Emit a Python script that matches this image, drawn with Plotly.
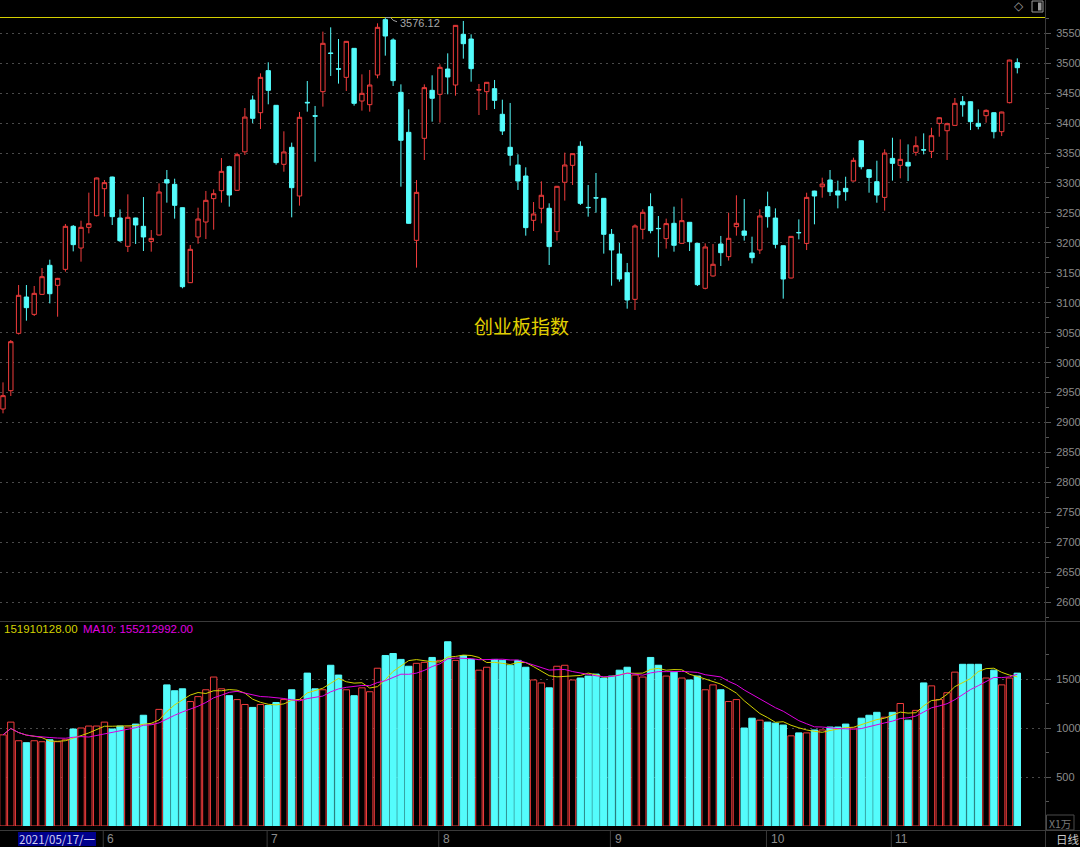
import plotly.graph_objects as go
import pandas as pd

W, H = 1080, 847

# ---------------- data (创业板指数, daily, 2021-05-13 .. 2021-11-23) ----------------
opens = [2922.6, 2953.2, 3049.0, 3109.6, 3080.6, 3114.0, 3162.5, 3129.1, 3155.8, 3227.6,
         3191.4, 3225.9, 3245.4, 3290.4, 3309.9, 3241.5, 3194.2, 3241.5, 3227.6, 3202.5,
         3213.1, 3305.5, 3297.7, 3258.7, 3133.5, 3209.8, 3234.8, 3273.8, 3287.1, 3327.2,
         3287.7, 3352.0, 3438.5, 3417.3, 3487.5, 3429.6, 3331.1, 3359.5, 3278.2, 3434.6,
         3412.3, 3452.4, 3517.0, 3490.8, 3476.3, 3524.7, 3436.8, 3430.7, 3480.2, 3572.6,
         3538.7, 3451.3, 3384.5, 3204.2, 3374.5, 3454.6, 3448.0, 3490.2, 3463.5, 3548.1,
         3540.3, 3455.2, 3452.4, 3457.4, 3414.6, 3359.5, 3330.0, 3311.6, 3237.6, 3257.7,
         3257.7, 3218.7, 3301.1, 3329.4, 3361.2, 3259.2, 3275.3, 3274.3, 3214.2, 3181.4,
         3150.2, 3105.7, 3222.6, 3260.4, 3224.1, 3207.0, 3232.6, 3199.2, 3234.3, 3199.2,
         3124.1, 3144.7, 3198.1, 3177.0, 3227.0, 3219.8, 3183.1, 3188.1, 3260.4, 3241.4,
         3195.2, 3141.3, 3217.3, 3199.1, 3286.5, 3293.7, 3304.9, 3286.5, 3291.0, 3303.2,
         3370.5, 3322.1, 3302.1, 3275.9, 3341.0, 3329.4, 3334.4, 3351.1, 3355.4, 3352.7,
         3399.5, 3387.2, 3396.1, 3435.6, 3435.6, 3399.5, 3412.3, 3417.3, 3385.6, 3434.0,
         3500.8]
highs = [2967.1, 3037.8, 3129.6, 3129.6, 3128.0, 3158.0, 3171.9, 3141.5, 3231.5, 3229.8,
         3237.0, 3283.8, 3309.0, 3304.9, 3310.5, 3255.9, 3281.0, 3242.0, 3276.5, 3221.4,
         3299.3, 3321.6, 3307.1, 3259.0, 3196.4, 3258.7, 3286.6, 3289.3, 3341.6, 3328.8,
         3350.5, 3425.0, 3446.0, 3483.0, 3501.4, 3430.0, 3386.2, 3367.3, 3418.5, 3470.2,
         3428.5, 3552.6, 3559.8, 3540.3, 3536.9, 3525.2, 3481.3, 3488.6, 3566.5, 3576.12,
         3541.4, 3464.6, 3422.9, 3304.9, 3464.6, 3479.7, 3498.0, 3516.4, 3563.6, 3570.4,
         3548.1, 3465.2, 3468.5, 3471.9, 3439.0, 3433.5, 3347.8, 3326.1, 3268.2, 3302.7,
         3266.0, 3295.0, 3350.6, 3349.5, 3369.5, 3296.6, 3316.6, 3274.8, 3223.1, 3199.8,
         3166.4, 3230.9, 3256.0, 3282.7, 3244.8, 3240.4, 3260.4, 3274.3, 3234.8, 3199.7,
         3199.2, 3198.1, 3211.5, 3250.4, 3279.4, 3273.2, 3210.3, 3256.0, 3285.5, 3257.6,
         3195.7, 3211.3, 3239.2, 3283.7, 3287.0, 3308.8, 3321.6, 3303.8, 3310.4, 3342.2,
         3371.0, 3322.6, 3337.1, 3356.1, 3375.5, 3372.8, 3364.4, 3377.8, 3382.8, 3392.2,
         3409.4, 3400.6, 3441.8, 3445.1, 3436.1, 3422.8, 3422.8, 3417.8, 3418.9, 3505.7,
         3508.0]
lows = [2915.4, 2944.3, 3047.0, 3070.1, 3077.9, 3113.0, 3099.0, 3076.7, 3151.9, 3185.8,
        3168.6, 3215.9, 3244.0, 3243.7, 3229.8, 3201.4, 3184.7, 3198.1, 3186.4, 3185.3,
        3212.5, 3267.1, 3240.4, 3124.1, 3133.0, 3198.6, 3206.4, 3222.0, 3267.1, 3260.4,
        3287.0, 3346.7, 3400.0, 3390.1, 3431.3, 3330.5, 3318.8, 3242.6, 3262.1, 3419.0,
        3335.5, 3427.4, 3478.6, 3465.8, 3453.5, 3429.0, 3420.7, 3419.0, 3474.7, 3512.5,
        3461.9, 3293.8, 3232.0, 3158.6, 3338.3, 3402.3, 3400.7, 3448.0, 3445.7, 3507.5,
        3469.1, 3413.4, 3421.8, 3423.5, 3380.1, 3328.9, 3288.3, 3212.0, 3219.8, 3232.6,
        3163.0, 3203.7, 3270.5, 3296.6, 3263.2, 3243.7, 3250.4, 3182.0, 3128.5, 3135.2,
        3090.1, 3087.9, 3205.9, 3215.9, 3175.8, 3190.3, 3185.3, 3198.7, 3186.4, 3128.0,
        3122.4, 3143.6, 3161.4, 3170.3, 3212.0, 3203.7, 3165.8, 3181.4, 3225.4, 3190.8,
        3106.8, 3140.8, 3205.8, 3188.0, 3230.9, 3275.4, 3278.2, 3257.6, 3270.4, 3302.7,
        3322.7, 3283.7, 3267.0, 3253.7, 3303.8, 3307.7, 3303.2, 3345.5, 3347.7, 3341.6,
        3377.2, 3338.3, 3395.6, 3410.6, 3388.3, 3389.5, 3400.6, 3374.4, 3378.3, 3432.9,
        3482.9]
closes = [2944.9, 3035.0, 3112.4, 3091.8, 3115.7, 3143.5, 3115.1, 3140.7, 3227.6, 3197.0,
          3225.9, 3232.0, 3308.3, 3300.5, 3243.7, 3203.6, 3242.6, 3229.8, 3209.8, 3207.5,
          3284.9, 3299.9, 3262.6, 3126.8, 3189.2, 3239.8, 3271.0, 3282.1, 3319.4, 3279.9,
          3347.2, 3410.0, 3407.9, 3476.3, 3454.6, 3333.9, 3351.7, 3292.1, 3409.6, 3433.8,
          3411.5, 3533.1, 3516.2, 3490.0, 3536.4, 3432.9, 3449.6, 3463.5, 3559.8, 3545.3,
          3470.8, 3371.2, 3232.6, 3284.3, 3459.1, 3441.3, 3493.0, 3476.9, 3563.1, 3532.5,
          3490.8, 3455.7, 3468.0, 3437.9, 3386.7, 3346.1, 3303.3, 3225.4, 3248.2, 3279.4,
          3193.7, 3294.4, 3330.0, 3348.9, 3266.0, 3258.8, 3274.9, 3214.2, 3188.1, 3139.7,
          3104.6, 3228.2, 3251.0, 3220.4, 3223.7, 3232.1, 3195.9, 3237.1, 3202.0, 3130.2,
          3193.1, 3164.2, 3183.6, 3207.6, 3232.6, 3212.6, 3175.3, 3244.9, 3243.7, 3197.5,
          3139.6, 3210.8, 3216.9, 3275.9, 3278.2, 3298.2, 3285.4, 3279.8, 3285.4, 3337.7,
          3327.1, 3309.3, 3279.8, 3349.9, 3332.7, 3339.4, 3328.2, 3362.2, 3355.0, 3378.9,
          3408.9, 3398.9, 3432.9, 3430.6, 3402.3, 3394.5, 3421.2, 3385.6, 3418.4, 3505.2,
          3492.4]
# volume, in axis units (the yellow readout 151910128.00 = 1519 here)
volumes = [930, 1060, 870, 850, 870, 860, 880, 860, 880, 990,
           1000, 1020, 1020, 1060, 990, 1020, 1010, 1040, 1130, 1040,
           1190, 1440, 1380, 1400, 1270, 1320, 1390, 1520, 1400, 1330,
           1290, 1240, 1210, 1240, 1230, 1260, 1290, 1390, 1290, 1560,
           1400, 1390, 1640, 1540, 1390, 1330, 1410, 1370, 1610, 1740,
           1760, 1700, 1630, 1660, 1670, 1720, 1690, 1880, 1690, 1740,
           1700, 1590, 1620, 1700, 1690, 1640, 1690, 1620, 1490, 1460,
           1410, 1630, 1640, 1490, 1510, 1530, 1550, 1510, 1530, 1590,
           1620, 1540, 1520, 1720, 1640, 1530, 1570, 1510, 1490, 1530,
           1390, 1440, 1390, 1270, 1290, 1000, 1100, 1080, 1060, 1050,
           1030, 920, 950, 950, 980, 980, 1010, 1010, 1040, 1000,
           1100, 1130, 1160, 1110, 1160, 1250, 1080, 1180, 1460, 1430,
           1290, 1360, 1570, 1650, 1650, 1650, 1510, 1590, 1440, 1510,
           1560]

holidays = ["2021-06-14", "2021-09-20", "2021-09-21", "2021-10-01", "2021-10-04",
            "2021-10-05", "2021-10-06", "2021-10-07"]
vol_ticks = [500, 1000, 1500]
price_title = "创业板指数"
ma5_label = "151910128.00"
ma10_label = "MA10: 155212992.00"
high_label = "3576.12"
date_label = "2021/05/17/一"

# ---------------- derived ----------------
days = pd.bdate_range("2021-05-13", "2021-11-23")
days = days[~days.isin(pd.to_datetime(holidays))][:len(closes)]
n = len(closes)
xs = list(range(n))
vol_s = pd.Series(volumes, dtype=float)
ma5 = vol_s.rolling(5, min_periods=1).mean()
ma10 = vol_s.rolling(10, min_periods=1).mean()
up = [c >= o for o, c in zip(opens, closes)]
month_starts = [i for i in range(1, n) if days[i].month != days[i - 1].month]

RED = "#f03c3c"
CYAN = "#54fcfc"
YEL = "#d2d200"
MAG = "#e000e0"
GRID = "#4a4a4a"
AXC = "#3a3a3a"
LBL = "#8c8c8c"
NUMF = "Liberation Sans, Arial, sans-serif"
CJK = "Noto Sans CJK SC, sans-serif"


def py(p):  # paper y from pixel
    return 1 - p / H


def px(p):
    return p / W


# x range: candle 0 at pixel 3, spacing ~7.8 px, plot width 1045 px
step = (1017.3 - 3) / 130
r0 = -3 / step
r1 = r0 + 1045 / step
x_dom = [0, 1045 / W]

fig = go.Figure()
fig.add_trace(go.Candlestick(
    x=xs, open=opens, high=highs, low=lows, close=closes,
    increasing=dict(line=dict(color=RED, width=1), fillcolor="#000000"),
    decreasing=dict(line=dict(color=CYAN, width=1), fillcolor=CYAN),
    whiskerwidth=0, xaxis="x", yaxis="y", hoverinfo="skip"))

fig.add_trace(go.Bar(
    x=xs, y=volumes, width=0.82,
    marker=dict(color=["#000000" if u else CYAN for u in up],
                line=dict(color=[RED if u else CYAN for u in up], width=1)),
    xaxis="x2", yaxis="y2", hoverinfo="skip"))
fig.add_trace(go.Scatter(x=xs, y=ma5, mode="lines", line=dict(color=YEL, width=1),
                         xaxis="x2", yaxis="y2", hoverinfo="skip"))
fig.add_trace(go.Scatter(x=xs, y=ma10, mode="lines", line=dict(color=MAG, width=1),
                         xaxis="x2", yaxis="y2", hoverinfo="skip"))

p_top = 3350 + (153 - 17) / 0.599
p_bot = 3350 - (621 - 153) / 0.599

axis_common = dict(side="right", ticks="outside", ticklen=5, tickwidth=1, tickcolor="#555555",
                   showline=False, zeroline=False, gridcolor=GRID, griddash="2px,4px", gridwidth=1,
                   tickfont=dict(family=NUMF, size=11, color=LBL), ticklabelstandoff=3,
                   fixedrange=True)

fig.update_layout(
    width=W, height=H, margin=dict(l=0, r=0, t=0, b=0),
    paper_bgcolor="#000000", plot_bgcolor="#000000",
    showlegend=False, boxgap=0.2, bargap=0,
    xaxis=dict(domain=x_dom, range=[r0, r1], showgrid=False, zeroline=False, showticklabels=False,
               ticks="", rangeslider=dict(visible=False), anchor="y", fixedrange=True),
    xaxis2=dict(domain=x_dom, range=[r0, r1], showgrid=False, zeroline=False, showticklabels=False,
                ticks="", anchor="y2", fixedrange=True),
    yaxis=dict(domain=[py(621), py(17)], range=[p_bot, p_top], anchor="x",
               tickmode="linear", tick0=0, dtick=50,
               minor=dict(ticks="outside", ticklen=3, tickcolor="#555555", dtick=25, tick0=0,
                          showgrid=False),
               **axis_common),
    yaxis2=dict(domain=[py(826), py(622)], range=[0, (826 - 622) / 0.098], anchor="x2",
                tickmode="array", tickvals=vol_ticks,
                minor=dict(ticks="outside", ticklen=3, tickcolor="#555555",
                           tickmode="array", tickvals=[250, 750, 1250, 1750], showgrid=False),
                **axis_common),
)

shapes = []
# top yellow border
shapes.append(dict(type="line", xref="paper", yref="paper", x0=0, x1=px(1045), y0=py(17.5), y1=py(17.5),
                   line=dict(color="#d4d000", width=1)))
# right axis vertical
shapes.append(dict(type="line", xref="paper", yref="paper", x0=px(1045.5), x1=px(1045.5), y0=0, y1=1,
                   line=dict(color=AXC, width=1)))
# panel separators
for yy in (621.5, 830.5):
    shapes.append(dict(type="line", xref="paper", yref="paper", x0=0, x1=1, y0=py(yy), y1=py(yy),
                       line=dict(color=AXC, width=1)))
# month separators in date strip
for i in month_starts:
    shapes.append(dict(type="line", xref="x2", yref="paper", x0=i - 0.15, x1=i - 0.15,
                       y0=py(831), y1=py(847), line=dict(color=AXC, width=1)))
# date cursor box
shapes.append(dict(type="rect", xref="paper", yref="paper", x0=px(18), x1=px(96), y0=py(846), y1=py(832),
                   fillcolor="#00008c", line=dict(width=0)))
# X1万 box
shapes.append(dict(type="rect", xref="paper", yref="paper", x0=px(1046.5), x1=px(1074), y0=py(830), y1=py(815),
                   fillcolor="rgba(0,0,0,0)", line=dict(color="#4a4a4a", width=1)))
# top-right icon
shapes.append(dict(type="rect", xref="paper", yref="paper", x0=px(1032), x1=px(1043), y0=py(12), y1=py(1),
                   fillcolor="rgba(0,0,0,0)", line=dict(color="#9a9a9a", width=1)))
shapes.append(dict(type="rect", xref="paper", yref="paper", x0=px(1038), x1=px(1041.5), y0=py(10.5), y1=py(2.5),
                   fillcolor="#9a9a9a", line=dict(width=0)))
# leader to highest price
hi_i = max(range(n), key=lambda k: highs[k])
hv = highs[hi_i]
shapes.append(dict(type="path", xref="x", yref="y",
                   path=f"M {hi_i},{hv} L {hi_i + 0.7},{hv} L {hi_i + 1.0},{hv - 4.5} L {hi_i + 1.5},{hv - 7}",
                   line=dict(color="#a0a0a0", width=1)))
fig.update_layout(shapes=shapes)

ann = []
ann.append(dict(x=hi_i + 1.6, y=hv - 9, xref="x", yref="y", text=high_label, showarrow=False,
                xanchor="left", yanchor="middle", font=dict(family=NUMF, size=11, color="#a8a8a8")))
ann.append(dict(x=px(521), y=py(325), xref="paper", yref="paper", text=price_title, showarrow=False,
                xanchor="center", yanchor="middle", font=dict(family=CJK, size=19, color="#e0d000")))
ann.append(dict(x=px(2), y=py(629), xref="paper", yref="paper", text=ma5_label, showarrow=False,
                xanchor="left", yanchor="middle", font=dict(family=NUMF, size=11.5, color=YEL)))
ann.append(dict(x=px(81), y=py(629), xref="paper", yref="paper", text=ma10_label, showarrow=False,
                xanchor="left", yanchor="middle", font=dict(family=NUMF, size=11.5, color=MAG)))
for i in month_starts:
    ann.append(dict(x=i, y=py(839), xref="x2", yref="paper", text=str(days[i].month), showarrow=False,
                    xanchor="left", yanchor="middle", xshift=1,
                    font=dict(family=NUMF, size=12, color=LBL)))
ann.append(dict(x=px(57), y=py(839), xref="paper", yref="paper", text=date_label, showarrow=False,
                xanchor="center", yanchor="middle", font=dict(family=CJK, size=11.5, color="#d0d0f0")))
ann.append(dict(x=px(1060), y=py(823), xref="paper", yref="paper", text="X1万", showarrow=False,
                xanchor="center", yanchor="middle", font=dict(family=CJK, size=10.5, color="#7a7a7a")))
ann.append(dict(x=px(1068), y=py(839), xref="paper", yref="paper", text="日线", showarrow=False,
                xanchor="center", yanchor="middle", font=dict(family=CJK, size=11.5, color="#c8c8c8")))
ann.append(dict(x=px(1019), y=py(6), xref="paper", yref="paper", text="◇", showarrow=False,
                xanchor="center", yanchor="middle", font=dict(family="DejaVu Sans", size=12, color="#9a9a9a")))
fig.update_layout(annotations=ann)

fig.write_html("out.html", config={"displayModeBar": False, "staticPlot": True},
               post_script="document.body.style.margin='0px';document.body.style.overflow='hidden';"
                           "document.documentElement.style.overflow='hidden';")
